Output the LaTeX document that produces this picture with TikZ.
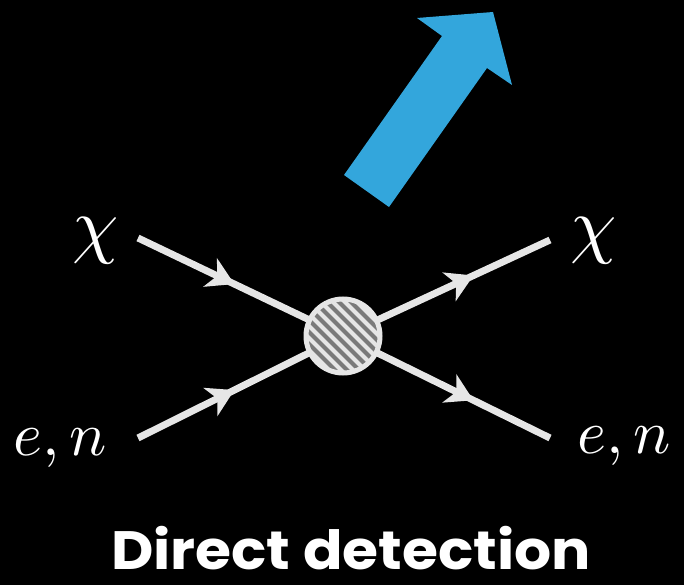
\documentclass[tikz,border=0pt]{standalone}
\usepackage{unicode-math}
\setmathfont{Latin Modern Math}
\newfontfamily\titlefont{Poppins}
\usetikzlibrary{decorations.markings,arrows.meta,calc}
\definecolor{fline}{HTML}{E6E6E6}
\definecolor{bluearrow}{HTML}{33A6DC}
\definecolor{hatchgray}{HTML}{7A7A7A}
\begin{document}
\begin{tikzpicture}[x=1pt,y=-1pt,
  fermion/.style={draw=fline,line width=7pt,
    postaction={decorate},
    decoration={markings,mark=at position #1 with {\arrow{Stealth[length=27pt,width=32pt,inset=8pt,fill=fline,color=fline,line width=0pt]}}}},
  lab/.style={text=white,font=\fontsize{62}{62}\selectfont,inner sep=0pt},
  chilab/.style={text=white,font=\fontsize{74}{74}\selectfont,inner sep=0pt},
]
\useasboundingbox[fill=black] (0,0) rectangle (684,585);
% blue arrow
\fill[bluearrow] (344,175) -- (442,36) -- (417,18) -- (493,12) -- (512,85) -- (487,68) -- (389,207) -- cycle;
% vertices
\coordinate (c) at (343,336);
\coordinate (a1) at (138,238);
\coordinate (a2) at (138,438);
\coordinate (b1) at (550,240);
\coordinate (b2) at (550,438);
\draw[fermion=0.47] (a1) -- (c);
\draw[fermion=0.47] (a2) -- (c);
\draw[fermion=0.63] (c) -- (b1);
\draw[fermion=0.63] (c) -- (b2);
% blob
\node[circle,minimum size=74pt,inner sep=0pt,fill=hatchgray] (blob) at (c) {};
\begin{scope}
\clip (c) circle (37pt);
\foreach \k in {-9,...,9}{
  \draw[fline,line width=4.2pt] ($(c)+(\k*12,0)+(-60,-60)$) -- ($(c)+(\k*12,0)+(60,60)$);
}
\end{scope}
\draw[fline,line width=5pt] (c) circle (37pt);
% labels
\node[chilab,anchor=base east] (chi1) at (119,249) {$\chi$};
\node[lab,anchor=base east] (en1) at (107,455) {$e{,}\mkern3mu n$};
\node[chilab,anchor=base west] (chi2) at (570,249) {$\chi$};
\node[lab,anchor=base west] (en2) at (577,453) {$e{,}\mkern3mu n$};
\node[text=white,font=\titlefont\bfseries\fontsize{54}{54}\selectfont,inner sep=0pt,anchor=base,xscale=1.08,text depth=0pt,text height=40pt] (title) at (351,569) {Direct detection};
\end{tikzpicture}
\end{document}
